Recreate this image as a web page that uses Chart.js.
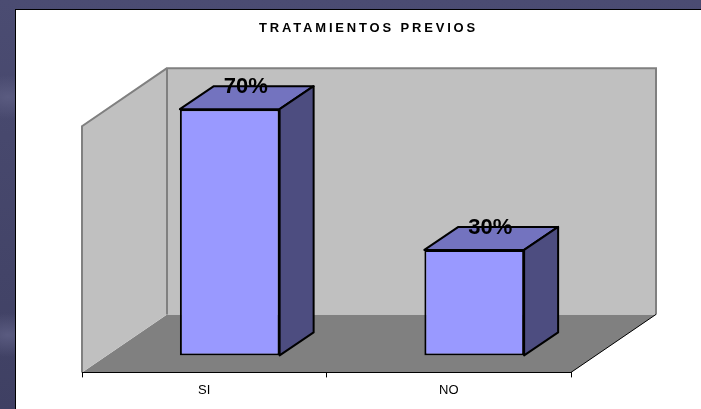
<!DOCTYPE html>
<html>
<head>
<meta charset="utf-8">
<title>Tratamientos previos</title>
<script src="https://cdn.jsdelivr.net/npm/chart.js@4"></script>
<style>
    html, body { margin: 0; padding: 0; overflow: hidden; }
    body {
        width: 701px;
        height: 409px;
        position: relative;
        background:
            radial-gradient(ellipse 40px 22px at 8px 97px, #5a5b80, transparent),
            radial-gradient(ellipse 40px 22px at 8px 335px, #5a5b80, transparent),
            linear-gradient(#4b4c72, #3f4063);
    }
    #panel {
        position: absolute;
        left: 15px;
        top: 9px;
        right: 0;
        bottom: 0;
        background: #fff;
        border-left: 1px solid #000;
        border-top: 1px solid #000;
    }
    #chart { position: absolute; left: 0; top: 0; }
</style>
</head>
<body>
<div id="panel"></div>
<canvas id="chart" width="701" height="409"></canvas>
<script>
const categories = ["SI", "NO"];
const percentValues = [70, 30];
const chartTitle = "TRATAMIENTOS PREVIOS";

// Offsets of the fake 3D look
const wallDx = 85, wallDy = -58;
const barShiftX = 25.5, barShiftY = -17;
const barDx = 34, barDy = -23;

function poly(ctx, pts, fill, stroke, lineWidth) {
    ctx.beginPath();
    pts.forEach((p, i) => i ? ctx.lineTo(p[0], p[1]) : ctx.moveTo(p[0], p[1]));
    ctx.closePath();
    if (fill) {
        ctx.fillStyle = fill;
        ctx.fill();
    }
    if (stroke) {
        ctx.strokeStyle = stroke;
        ctx.lineWidth = lineWidth;
        ctx.lineJoin = "round";
        ctx.stroke();
    }
}

const box3d = {
    id: "box3d",
    afterLayout(chart) {
        // Title sits off the plot centre in the original
        const t = chart.titleBlock;
        t.left = 259;
        t.right = 478;
    },
    beforeDraw(chart) {
        chart.ctx.letterSpacing = "2.85px";
    },
    beforeDatasetsDraw(chart) {
        const ctx = chart.ctx;
        const { left, right, top, bottom } = chart.chartArea;
        ctx.letterSpacing = "0px";
        ctx.save();
        // Walls and floor
        poly(ctx, [[left, bottom], [left + wallDx, bottom + wallDy], [right + wallDx, bottom + wallDy], [right, bottom]], "#808080");
        poly(ctx, [[left + wallDx, bottom + wallDy], [left + wallDx, top + wallDy], [right + wallDx, top + wallDy], [right + wallDx, bottom + wallDy]], "#c0c0c0");
        poly(ctx, [[left, bottom], [left, top], [left + wallDx, top + wallDy], [left + wallDx, bottom + wallDy]], "#c0c0c0");
        ctx.strokeStyle = "#808080";
        ctx.lineWidth = 2;
        ctx.lineJoin = "miter";
        ctx.beginPath();
        ctx.moveTo(left + wallDx, bottom + wallDy);
        ctx.lineTo(left + wallDx, top + wallDy);
        ctx.lineTo(right + wallDx, top + wallDy);
        ctx.lineTo(right + wallDx, bottom + wallDy);
        ctx.moveTo(left, bottom);
        ctx.lineTo(left, top);
        ctx.lineTo(left + wallDx, top + wallDy);
        ctx.stroke();
        ctx.strokeStyle = "#000";
        ctx.lineWidth = 1;
        ctx.beginPath();
        ctx.moveTo(right, bottom);
        ctx.lineTo(right + wallDx, bottom + wallDy);
        ctx.stroke();
        // Top and side faces of the bars
        ctx.translate(barShiftX, barShiftY);
        chart.getDatasetMeta(0).data.forEach(bar => {
            const l = bar.x - bar.width / 2, r = bar.x + bar.width / 2;
            poly(ctx, [[l, bar.y], [l + barDx, bar.y + barDy], [r + barDx, bar.y + barDy], [r, bar.y]], "#7373bf", "#000", 2);
            poly(ctx, [[r, bar.y], [r + barDx, bar.y + barDy], [r + barDx, bar.base + barDy], [r, bar.base]], "#4d4d80", "#000", 2);
        });
        ctx.restore();
    },
    beforeDatasetDraw(chart) {
        chart.ctx.save();
        chart.ctx.translate(barShiftX, barShiftY);
    },
    afterDatasetDraw(chart) {
        chart.ctx.restore();
    },
    afterDatasetsDraw(chart) {
        const ctx = chart.ctx;
        ctx.save();
        ctx.font = "bold 22px 'Liberation Sans'";
        ctx.fillStyle = "#000";
        ctx.textAlign = "center";
        ctx.textBaseline = "middle";
        chart.getDatasetMeta(0).data.forEach((bar, i) => {
            ctx.fillText(percentValues[i] + "%", bar.x + barShiftX + barDx / 2 - 1, bar.y + barShiftY + barDy + 1);
        });
        ctx.restore();
    }
};

new Chart(document.getElementById("chart"), {
    type: "bar",
    data: {
        labels: categories,
        datasets: [{
            data: percentValues,
            backgroundColor: "#9999ff",
            borderColor: "#000",
            borderWidth: 2,
            borderSkipped: false,
            barPercentage: 0.408,
            categoryPercentage: 1
        }]
    },
    options: {
        responsive: false,
        animation: false,
        layout: {
            padding: { left: 82, right: 130, top: 0, bottom: 6 }
        },
        plugins: {
            legend: { display: false },
            tooltip: { enabled: false },
            title: {
                display: true,
                text: chartTitle,
                color: "#000",
                font: { family: "'Liberation Sans'", size: 13, weight: "bold" },
                padding: { top: 21, bottom: 89.6 }
            }
        },
        scales: {
            x: {
                grid: { drawOnChartArea: false, color: "#000", tickLength: 5, z: 1 },
                border: { color: "#000", width: 1, z: 1 },
                ticks: {
                    z: 1,
                    color: "#000",
                    padding: 5,
                    font: { family: "'Liberation Sans'", size: 13 }
                }
            },
            y: {
                display: false,
                min: 0,
                max: 70
            }
        }
    },
    plugins: [box3d]
});
</script>
</body>
</html>
